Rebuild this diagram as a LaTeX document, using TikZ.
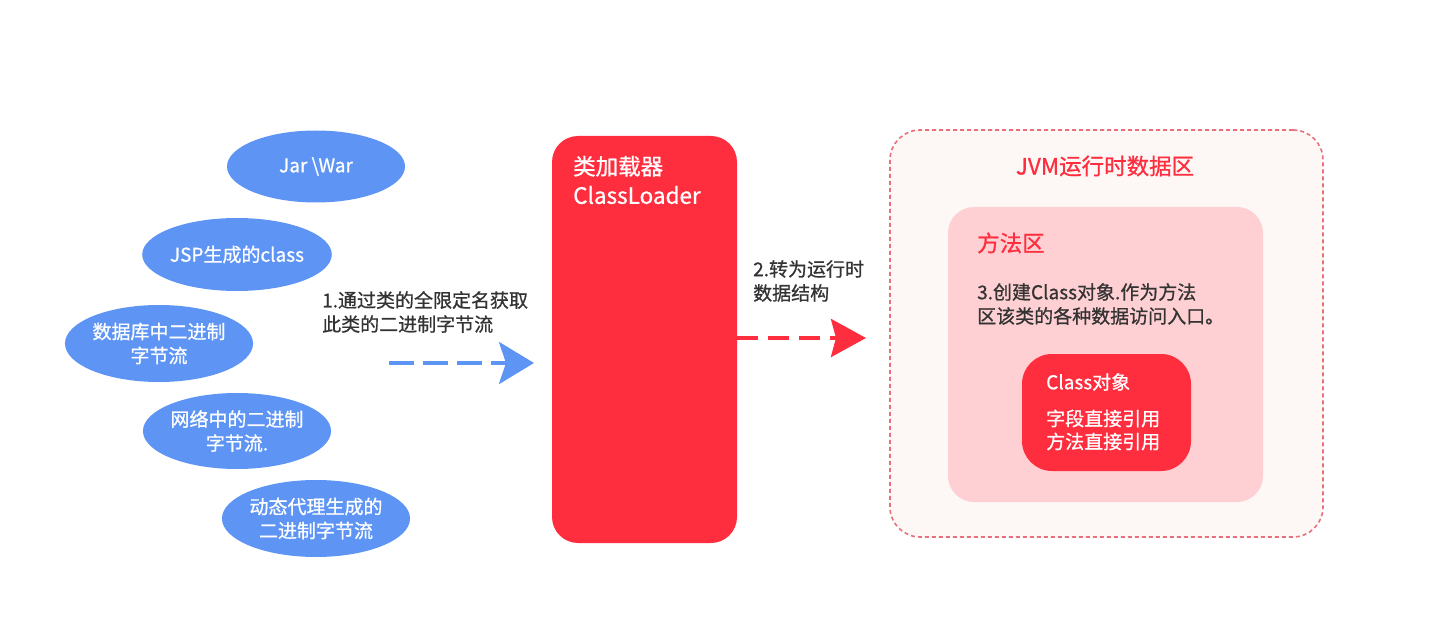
\documentclass[tikz,border=0pt]{standalone}
\usepackage{fontspec}
\setmainfont{Noto Sans CJK SC}[FakeBold=0.8]
\usetikzlibrary{arrows.meta,shapes.geometric}
\definecolor{eblue}{RGB}{94,149,245}
\definecolor{lred}{RGB}{255,46,62}
\definecolor{pinkfill}{RGB}{255,208,211}
\definecolor{outerfill}{RGB}{253,248,246}
\definecolor{outerline}{RGB}{232,112,122}
\definecolor{darktext}{RGB}{51,51,51}
\tikzset{
  src/.style={ellipse, fill=eblue, text=white, inner sep=0pt, align=center,
    font=\fontsize{19}{24}\selectfont},
  note/.style={text=darktext, inner sep=0pt, align=left, anchor=west,
    font=\fontsize{19}{24}\selectfont},
  flowblue/.style={eblue, line width=4pt, dash pattern=on 25pt off 9pt,
    -{Stealth[length=35pt,width=42pt,inset=7pt]}},
  flowred/.style={lred, line width=4pt, dash pattern=on 21pt off 10pt,
    -{Stealth[length=35pt,width=38pt,inset=5pt]}},
}
\begin{document}
\begin{tikzpicture}[x=1pt,y=-1pt]
\useasboundingbox (0,0) rectangle (1432,644);
% sources
\node[src, minimum width=178pt, minimum height=72pt] (jar) at (316,166.5) {Jar \textbackslash War};
\node[src, minimum width=179pt, minimum height=73pt] (jsp) at (237,254.5) {JSP生成的class};
\node[src, minimum width=186pt, minimum height=77pt] (db) at (159,343.5) {数据库中二进制\\字节流};
\node[src, minimum width=184pt, minimum height=76pt] (net) at (237,431) {网络中的二进制\\字节流.};
\node[src, minimum width=184pt, minimum height=77pt] (dyn) at (316,518.5) {动态代理生成的\\二进制字节流};
% label 1
\node[note] (l1) at (322,312) {1.通过类的全限定名获取\\此类的二进制字节流};
% class loader
\node[fill=lred, rounded corners=26pt, minimum width=185pt, minimum height=407pt, inner sep=0pt] (loader) at (644.5,339.5) {};
\node[text=white, inner sep=0pt, align=left, anchor=west, font=\fontsize{22.5}{29}\selectfont] (ltxt) at (573,180) {类加载器\\ClassLoader};
% blue arrow
\coordinate (b0) at (389,363);
\coordinate (b1) at (534,363);
\draw[flowblue] (b0) -- (b1);
% label 2
\node[note] (l2) at (753,281) {2.转为运行时\\数据结构};
% red arrow
\coordinate (r0) at (loader.east |- 0,338);
\coordinate (r1) at (866,338);
\draw[flowred] (r0) -- (r1);
% JVM area
\node[fill=outerfill, draw=outerline, line width=1.6pt, dash pattern=on 4pt off 3pt, rounded corners=30pt, minimum width=433pt, minimum height=407pt, inner sep=0pt] (jvm) at (1106.5,333.5) {};
\node[text=lred, inner sep=0pt, font=\fontsize{22.5}{29}\selectfont] (jvmt) at (1105,166) {JVM运行时数据区};
% method area
\node[fill=pinkfill, rounded corners=26pt, minimum width=315pt, minimum height=295pt, inner sep=0pt] (ma) at (1105.5,354.5) {};
\node[text=lred, inner sep=0pt, anchor=west, font=\fontsize{22.5}{29}\selectfont] (mat) at (977,243) {方法区};
\node[note] (l3) at (977,304) {3.创建Class对象.作为方法\\区该类的各种数据访问入口。};
% class object
\node[fill=lred, rounded corners=30pt, minimum width=169pt, minimum height=117pt, inner sep=0pt] (co) at (1106.5,412.5) {};
\node[text=white, inner sep=0pt, anchor=west, font=\fontsize{19}{24}\selectfont] (cot) at (1046,382) {Class对象};
\node[text=white, inner sep=0pt, anchor=west, align=left, font=\fontsize{19}{23}\selectfont] (cof) at (1046,430) {字段直接引用\\方法直接引用};
\end{tikzpicture}
\end{document}
